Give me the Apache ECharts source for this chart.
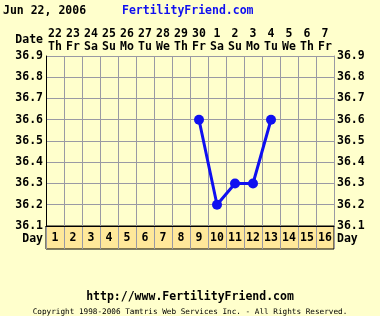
<!DOCTYPE html>
<html><head><meta charset="utf-8">
<script src="https://cdn.jsdelivr.net/npm/echarts@6/dist/echarts.min.js"></script>
<style>html,body{margin:0;padding:0;background:#FFFFCC}#c{width:380px;height:316px}</style>
</head><body><div id="c"></div>
<script>
var days = ['1','2','3','4','5','6','7','8','9','10','11','12','13','14','15','16'];
var dates = ['22','23','24','25','26','27','28','29','30','1','2','3','4','5','6','7'];
var weekdays = ['Th','Fr','Sa','Su','Mo','Tu','We','Th','Fr','Sa','Su','Mo','Tu','We','Th','Fr'];
var temps = [null,null,null,null,null,null,null,null,36.6,36.2,36.3,36.3,36.6,null,null,null];
var yMin = 36.1, yMax = 36.9, yStep = 0.1;

var F = '"DejaVu Sans Mono", monospace';
var chart = echarts.init(document.getElementById('c'), null, {renderer:'canvas'});
var lbl = {fontFamily:F, fontWeight:'bold', fontSize:11.5, color:'#000'};
chart.setOption({
  backgroundColor:'#FFFFCC',
  animation:false,
  grid:[
    {left:46, right:46, top:56, height:170},
    {left:46, right:46, top:226, height:23, show:true, backgroundColor:'#FFE89A', borderColor:'#000', borderWidth:1}
  ],
  xAxis:[
    {type:'category', gridIndex:0, data:days, position:'bottom', boundaryGap:true,
     axisLine:{show:true, lineStyle:{color:'#000', width:1}}, axisTick:{show:false},
     axisLabel:Object.assign({margin:6, interval:0}, lbl),
     splitLine:{show:true, interval:0, lineStyle:{color:'#9a9aa4', width:1}}},
    {type:'category', gridIndex:0, data:dates.map(function(d,i){return d+'\n'+weekdays[i];}), position:'top', boundaryGap:true,
     axisLine:{show:false}, axisTick:{show:false},
     axisLabel:Object.assign({margin:2, interval:0, lineHeight:13}, lbl)},
    {type:'category', gridIndex:1, data:days, boundaryGap:true,
     axisLine:{show:false}, axisTick:{show:false}, axisLabel:{show:false},
     splitLine:{show:true, interval:0, lineStyle:{color:'#9a9aa4', width:1}}}
  ],
  yAxis:[
    {type:'value', gridIndex:0, min:yMin, max:yMax, interval:yStep, position:'left',
     axisLine:{show:true, lineStyle:{color:'#000'}}, axisTick:{show:false},
     axisLabel:Object.assign({margin:3, formatter:function(v){return v.toFixed(1);}}, lbl),
     splitLine:{show:true, lineStyle:{color:'#9a9aa4', width:1}}},
    {type:'value', gridIndex:0, min:yMin, max:yMax, interval:yStep, position:'right',
     axisLine:{show:true, lineStyle:{color:'#9a9aa4'}}, axisTick:{show:false},
     axisLabel:Object.assign({margin:3, formatter:function(v){return v.toFixed(1);}}, lbl),
     splitLine:{show:false}},
    {type:'value', gridIndex:1, show:false}
  ],
  series:[{
    type:'line', xAxisIndex:0, yAxisIndex:0, data:temps, connectNulls:false,
    symbol:'circle', symbolSize:10, itemStyle:{color:'#1010F0'},
    lineStyle:{color:'#1010F0', width:3}
  }],
  graphic:[
    {type:'text', left:3, top:5, style:{text:'Jun 22, 2006', font:'bold 11.5px '+F, fill:'#000'}},
    {type:'text', left:122, top:5, style:{text:'FertilityFriend.com', font:'bold 11.5px '+F, fill:'#1010F0'}},
    {type:'text', right:337, top:34, style:{text:'Date', font:'bold 11.5px '+F, fill:'#000'}},
    {type:'text', right:337, top:233, style:{text:'Day', font:'bold 11.5px '+F, fill:'#000'}},
    {type:'text', left:337, top:233, style:{text:'Day', font:'bold 11.5px '+F, fill:'#000'}},
    {type:'text', left:'center', top:291, style:{text:'http://www.FertilityFriend.com', font:'bold 11.5px '+F, fill:'#000'}},
    {type:'text', left:'center', top:308, style:{text:'Copyright 1998-2006 Tamtris Web Services Inc. - All Rights Reserved.', font:'7.7px '+F, fill:'#000'}}
  ]
});
</script></body></html>
